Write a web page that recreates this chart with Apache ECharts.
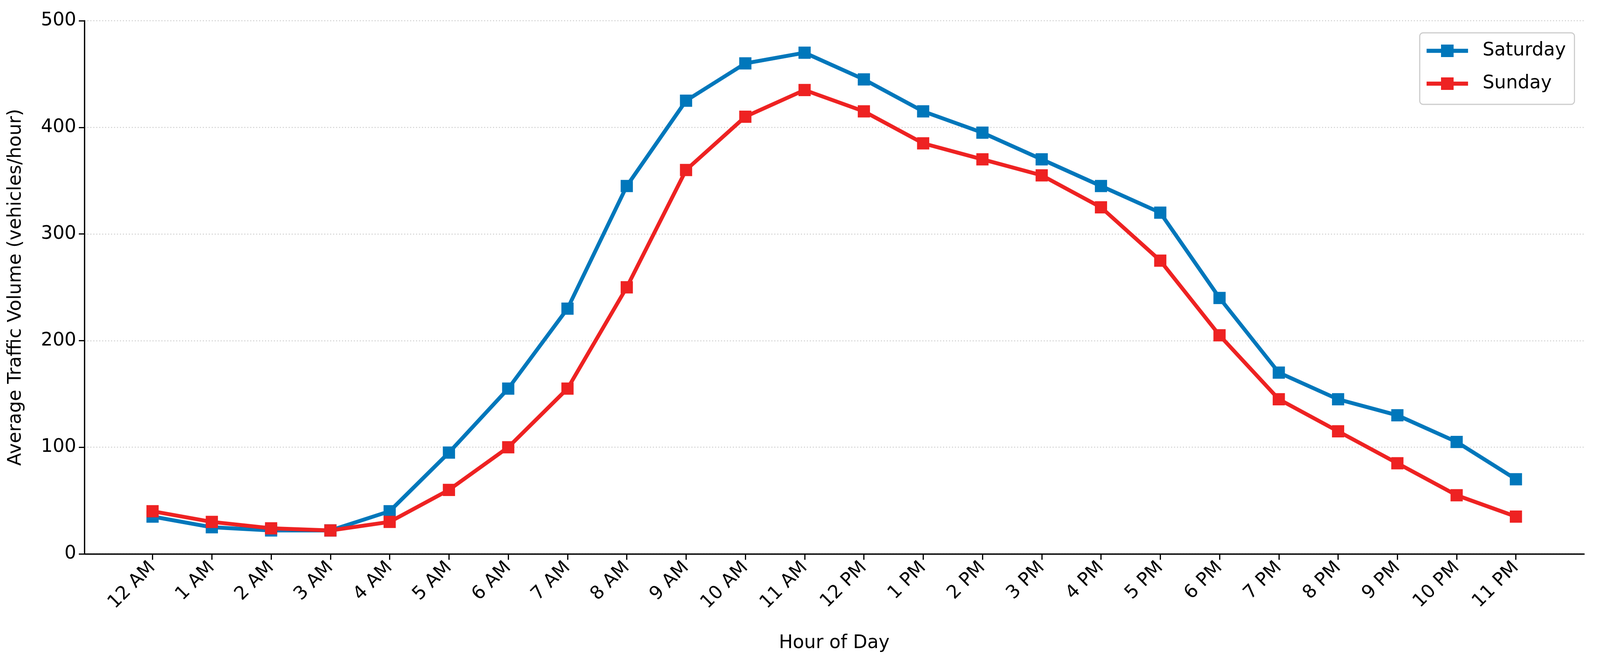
<!DOCTYPE html>
<html>
<head>
<meta charset="utf-8">
<script src="https://cdn.jsdelivr.net/npm/echarts@6/dist/echarts.min.js"></script>
<style>
html,body{margin:0;padding:0;background:#fff;overflow:hidden;width:100%;height:100%;}
#c{width:100vw;height:100vh;}
</style>
</head>
<body>
<div id="c"></div>
<script>
const hours = ['12 AM','1 AM','2 AM','3 AM','4 AM','5 AM','6 AM','7 AM','8 AM','9 AM','10 AM','11 AM',
               '12 PM','1 PM','2 PM','3 PM','4 PM','5 PM','6 PM','7 PM','8 PM','9 PM','10 PM','11 PM'];
const saturday = [35,25,22,22,40,95,155,230,345,425,460,470,445,415,395,370,345,320,240,170,145,130,105,70];
const sunday   = [40,30,24,22,30,60,100,155,250,360,410,435,415,385,370,355,325,275,205,145,115,85,55,35];
const yTicks = [0,100,200,300,400,500];

const font = 'DejaVu Sans';
const tickIdx = hours.map((h,i)=>i);

const el = document.getElementById('c');
const W = el.clientWidth || window.innerWidth || 4323;
const H = el.clientHeight || window.innerHeight || 1691;
const sx = W/4323, sy = H/1691, s = Math.min(sx, sy);
const X = v => v*sx, Y = v => v*sy, S = v => v*s;

const chart = echarts.init(el, null, {renderer:'canvas'});
chart.setOption({
  backgroundColor:'#ffffff',
  animation:false,
  textStyle:{fontFamily:font},
  grid:{left:X(228), right:X(43), top:Y(53), bottom:Y(274), containLabel:false},
  legend:{
    orient:'vertical', right:X(69), top:Y(84),
    itemWidth:X(112), itemHeight:S(42.5), itemGap:Y(34),
    padding:[Y(21),X(23),Y(28),X(13)],
    borderColor:'#cccccc', borderWidth:S(3), borderRadius:S(9),
    backgroundColor:'#ffffff',
    lineStyle:{width:S(11)},
    textStyle:{fontFamily:font, fontSize:S(50), color:'#000', lineHeight:Y(50), padding:[0,0,0,X(34)]},
    data:['Saturday','Sunday']
  },
  xAxis:{
    type:'value', min:-1.15, max:24.15,
    name:'Hour of Day', nameLocation:'middle', nameGap:Y(205),
    nameTextStyle:{fontFamily:font, fontSize:S(50), color:'#000'},
    axisLine:{show:true, onZero:false, lineStyle:{color:'#000', width:S(3.5)}},
    axisTick:{show:true, customValues:tickIdx, length:Y(15), lineStyle:{color:'#000', width:S(3.3)}},
    axisLabel:{customValues:tickIdx, rotate:45, margin:Y(28), fontFamily:font, fontSize:S(50), color:'#000',
      formatter:function(v){return hours[Math.round(v)];}},
    splitLine:{show:false}
  },
  yAxis:{
    type:'value', min:0, max:500, interval:100,
    name:'Average Traffic Volume (vehicles/hour)', nameLocation:'middle', nameGap:X(160),
    nameTextStyle:{fontFamily:font, fontSize:S(50), color:'#000'},
    axisLine:{show:true, onZero:false, lineStyle:{color:'#000', width:S(3.5)}},
    axisTick:{show:true, length:X(15), lineStyle:{color:'#000', width:S(3.3)}},
    axisLabel:{margin:X(22), fontFamily:font, fontSize:S(50), color:'#000',
      formatter:function(v){return yTicks.indexOf(v)>=0 ? String(v) : '';}},
    splitLine:{show:true, lineStyle:{color:'#cfcfcf', width:S(2.5), type:[S(3),S(5)]}}
  },
  series:[
    {name:'Saturday', type:'line', data:saturday.map((v,i)=>[i,v]),
     symbol:'rect', symbolSize:S(33), color:'#0077BB',
     lineStyle:{width:S(10.5), color:'#0077BB'}, itemStyle:{color:'#0077BB'}},
    {name:'Sunday', type:'line', data:sunday.map((v,i)=>[i,v]),
     symbol:'rect', symbolSize:S(33), color:'#EE2222',
     lineStyle:{width:S(10.5), color:'#EE2222'}, itemStyle:{color:'#EE2222'}}
  ]
});
</script>
</body>
</html>
